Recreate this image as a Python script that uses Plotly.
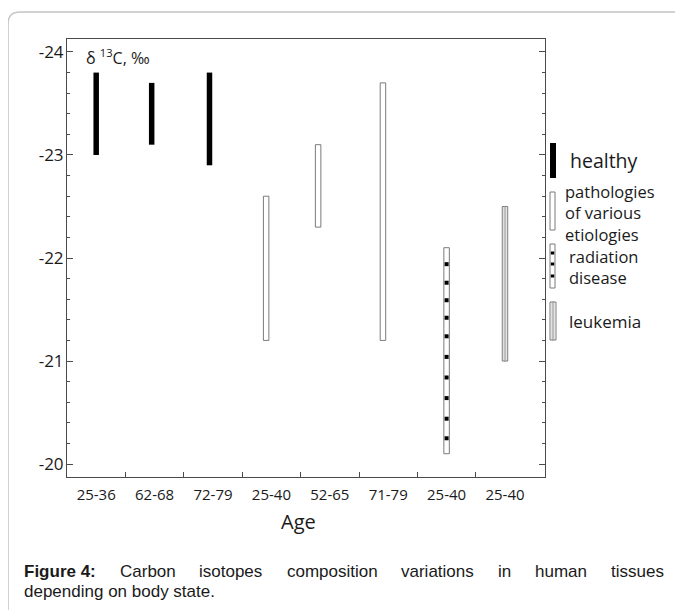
import plotly.graph_objects as go

# ---------------- data ----------------
ages = ["25-36", "62-68", "72-79", "25-40", "52-65", "71-79", "25-40", "25-40"]
groups = ["healthy", "healthy", "healthy", "pathologies", "pathologies",
          "pathologies", "radiation", "leukemia"]
d13c_max = [-23.0, -23.1, -22.9, -21.2, -22.3, -21.2, -20.1, -21.0]   # less negative end
d13c_min = [-23.8, -23.7, -23.8, -22.6, -23.1, -23.7, -22.1, -22.5]   # more negative end
radiation_marks = [-21.94, -21.76, -21.59, -21.42, -21.24, -21.04,
                   -20.84, -20.64, -20.44, -20.25]
y_ticks = [-24, -23, -22, -21, -20]
legend_lines = {
    "healthy": ["healthy"],
    "pathologies": ["pathologies", "of various", "etiologies"],
    "radiation": ["radiation", "disease"],
    "leukemia": ["leukemia"],
}
caption_line1 = ["Carbon", "isotopes", "composition", "variations", "in", "human", "tissues"]
caption_line2 = "depending on body state."

# ---------------- geometry / style ----------------
OFF = 8                      # page body margin of the browser
W, H = 683 - OFF, 610 - OFF
L, R, T, B = 67 - OFF, 545 - OFF, 39 - OFF, 477 - OFF
bar_shift = [0.0, -0.05, -0.06, -0.09, -0.2, -0.09, 0.0, 0.0]
bar_w = 0.094
GRAY = "#7a7a7a"
AX = "#4a4a4a"
TXT = "#1a1a1a"
FONT = "Open Sans"


def px(x):   # x given in screenshot pixels
    return (x - OFF - L) / (R - L)


def py(y):   # y given in screenshot pixels
    return (B - (y - OFF)) / (B - T)


fig = go.Figure()

styles = {
    "healthy": dict(color="black", line=dict(color="black", width=0)),
    "pathologies": dict(color="white", line=dict(color=GRAY, width=1)),
    "radiation": dict(color="white", line=dict(color=GRAY, width=1)),
    "leukemia": dict(color="white", line=dict(color=GRAY, width=1)),
}

for g in ["healthy", "pathologies", "radiation", "leukemia"]:
    idx = [i for i, gg in enumerate(groups) if gg == g]
    base = [d13c_min[i] for i in idx]
    length = [d13c_max[i] - d13c_min[i] for i in idx]
    offs = [-bar_w / 2 + bar_shift[i] for i in idx]
    fig.add_trace(go.Bar(x=idx, y=length, base=base, width=bar_w, offset=offs,
                         marker=styles[g], name=g, showlegend=False, hoverinfo="skip"))
    if g == "leukemia":
        iw = 0.028
        fig.add_trace(go.Bar(x=idx, y=length, base=base, width=iw,
                             offset=[-iw / 2 + bar_shift[i] for i in idx],
                             marker=dict(color="white", line=dict(color=GRAY, width=0.7)),
                             showlegend=False, hoverinfo="skip"))
    if g == "radiation":
        i = idx[0]
        fig.add_trace(go.Scatter(x=[i + bar_shift[i]] * len(radiation_marks), y=radiation_marks,
                                 mode="markers",
                                 marker=dict(symbol="square", size=4, color="black",
                                             line=dict(width=0)),
                                 showlegend=False, hoverinfo="skip"))

shapes = []
# outer rounded border
shapes.append(dict(type="path", xref="paper", yref="paper",
                   path=f"M {px(700)} {py(12)} L {px(20)} {py(12)} Q {px(8)} {py(12)} {px(8)} {py(24)} L {px(8)} {py(630)}",
                   line=dict(color="#c4c4c4", width=1.5)))
# legend symbols
shapes.append(dict(type="rect", xref="paper", yref="paper", x0=px(550), x1=px(556),
                   y0=py(178), y1=py(143), fillcolor="black", line=dict(width=0)))
shapes.append(dict(type="rect", xref="paper", yref="paper", x0=px(550), x1=px(555),
                   y0=py(230), y1=py(192), fillcolor="white", line=dict(color=GRAY, width=1)))
shapes.append(dict(type="rect", xref="paper", yref="paper", x0=px(550), x1=px(555),
                   y0=py(288), y1=py(244), fillcolor="white", line=dict(color=GRAY, width=1)))
for yy in (253, 264, 276):
    shapes.append(dict(type="rect", xref="paper", yref="paper", x0=px(550.8), x1=px(554.2),
                       y0=py(yy + 1.5), y1=py(yy - 1.5), fillcolor="black", line=dict(width=0)))
shapes.append(dict(type="rect", xref="paper", yref="paper", x0=px(550), x1=px(556),
                   y0=py(340), y1=py(302), fillcolor="white", line=dict(color=GRAY, width=1)))
shapes.append(dict(type="rect", xref="paper", yref="paper", x0=px(552.2), x1=px(553.8),
                   y0=py(340), y1=py(302), fillcolor="white", line=dict(color=GRAY, width=0.7)))

annotations = []
# legend texts: (left x, centre y of the block, font size)
leg_pos = {
    "healthy": (568, 160, 19.5),
    "pathologies": (563, 213, 16.5),
    "radiation": (567, 267, 16.5),
    "leukemia": (567, 321, 17),
}
for g, (lx, yy, fs) in leg_pos.items():
    annotations.append(dict(text="<br>".join(legend_lines[g]), xref="paper", yref="paper",
                            x=px(lx), y=py(yy), xanchor="left", yanchor="middle", align="left",
                            showarrow=False, font=dict(family=FONT, size=fs, color=TXT)))
# y-axis label inside plot
annotations.append(dict(text="δ <sup>13</sup>C, ‰", xref="paper", yref="paper", x=px(84), y=py(57),
                        xanchor="left", yanchor="middle", showarrow=False,
                        font=dict(family=FONT, size=16, color=TXT)))

# caption: justify first line using Arial metrics
reg = {'C': 722, 'a': 556, 'b': 556, 'o': 556, 'n': 556, 's': 500, 't': 278, 'p': 556, 'm': 833,
       'c': 500, 'v': 500, 'h': 556, 'd': 556, 'y': 500, '.': 278, 'i': 222, 'r': 333, 'e': 556,
       'u': 556, 'g': 556, ' ': 278}
bold = {'F': 611, 'i': 278, 'g': 611, 'u': 611, 'r': 389, 'e': 556, ' ': 278, '4': 556, ':': 333}
CS = 17
cap_font = "Liberation Sans, Arial, sans-serif"
w_bold = sum(bold[c] for c in "Figure 4:") * CS / 1000
w_words = [sum(reg[c] for c in w) * CS / 1000 for w in caption_line1]
x0c, x1c = 22, 662
gap = (x1c - x0c - w_bold - sum(w_words)) / len(caption_line1)
cy1, cy2 = 571, 591
annotations.append(dict(text="<b>Figure 4:</b>", xref="paper", yref="paper", x=px(x0c), y=py(cy1),
                        xanchor="left", yanchor="middle", showarrow=False,
                        font=dict(family=cap_font, size=CS, color=TXT)))
cx = x0c + w_bold + gap
for w, ww in zip(caption_line1, w_words):
    annotations.append(dict(text=w, xref="paper", yref="paper", x=px(cx), y=py(cy1),
                            xanchor="left", yanchor="middle", showarrow=False,
                            font=dict(family=cap_font, size=CS, color=TXT)))
    cx += ww + gap
annotations.append(dict(text=caption_line2, xref="paper", yref="paper", x=px(x0c), y=py(cy2),
                        xanchor="left", yanchor="middle", showarrow=False,
                        font=dict(family=cap_font, size=CS, color=TXT)))
# x-axis title
annotations.append(dict(text="Age", xref="paper", yref="paper", x=px(298), y=py(521),
                        xanchor="center", yanchor="middle", showarrow=False,
                        font=dict(family=FONT, size=20, color=TXT)))

fig.update_layout(
    width=W, height=H,
    margin=dict(l=L, r=W - R, t=T, b=H - B, pad=0),
    paper_bgcolor="white", plot_bgcolor="white",
    barmode="overlay",
    showlegend=False,
    shapes=shapes,
    annotations=annotations,
    xaxis=dict(range=[-0.5, 7.685], tickmode="array", tickvals=list(range(len(ages))),
               ticktext=ages, ticks="", showgrid=False, zeroline=False,
               showline=True, linecolor=AX, linewidth=1, mirror=True,
               ticklabelstandoff=4,
               tickfont=dict(family=FONT, size=15, color=TXT),
               minor=dict(tickmode="array", tickvals=[i + 0.5 for i in range(len(ages) - 1)],
                          ticks="inside", ticklen=5, tickcolor=AX, showgrid=False)),
    yaxis=dict(range=[-19.874, -24.126], tickmode="array", tickvals=y_ticks,
               ticktext=[str(v) for v in y_ticks], ticks="inside", ticklen=6, tickcolor=AX,
               showgrid=False, zeroline=False, showline=True, linecolor=AX, linewidth=1,
               mirror="allticks", ticklabelstandoff=-1,
               tickfont=dict(family=FONT, size=17, color=TXT),
               minor=dict(dtick=0.2, tick0=0, ticks="inside", ticklen=3, tickcolor=AX,
                          showgrid=False)),
)

fig.write_html("out.html")
